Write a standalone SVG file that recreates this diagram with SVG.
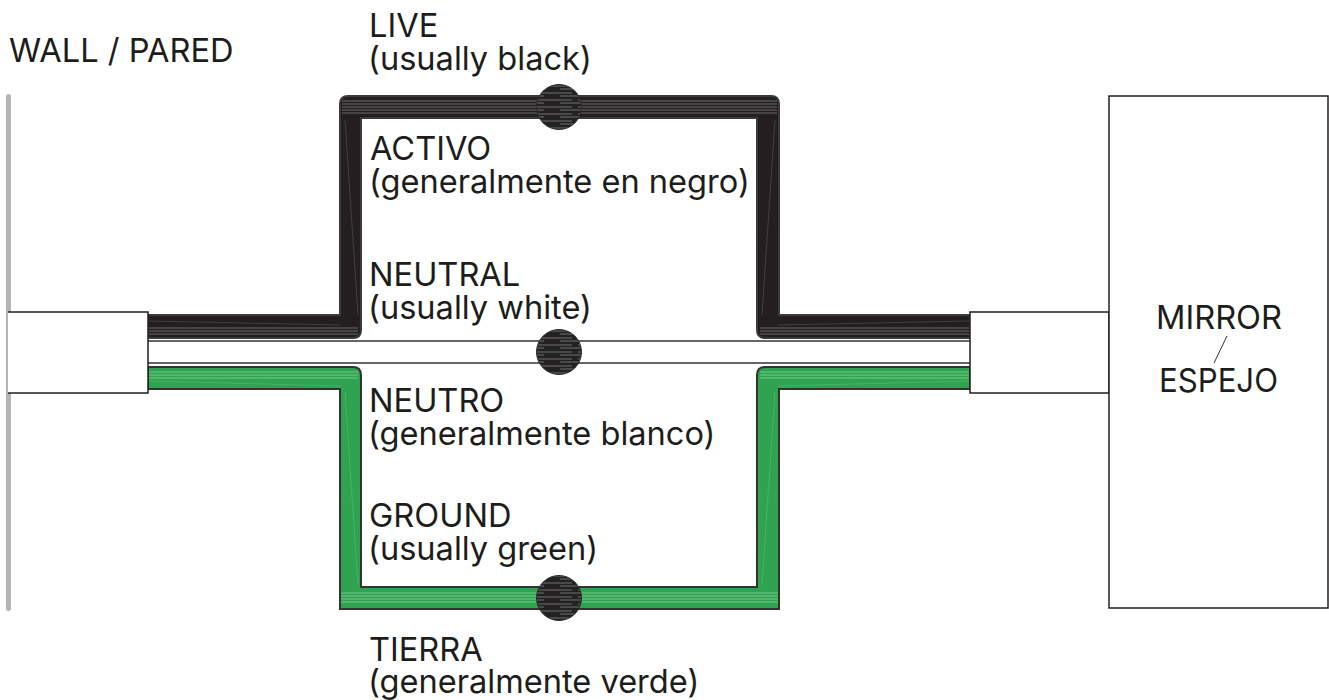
<svg xmlns="http://www.w3.org/2000/svg" width="1329" height="700" viewBox="0 0 1329 700">
<style>
text{font-family:Inter,"Liberation Sans",sans-serif;font-size:32.6px;fill:#1d1d1b}
.k{fill:#231f20;stroke:#3a3a3a;stroke-width:2}
.g{fill:#2fa350;stroke:#333;stroke-width:2}
.box{fill:#fff;stroke:#231f20;stroke-width:1.5}
.sk{stroke:#8a8a8d;stroke-width:1;fill:none;opacity:.7}
.sg{stroke:#8ad29e;stroke-width:1;fill:none;opacity:.8}
.fine{stroke-width:.6;opacity:.5}
.dot{fill:url(#st);stroke:#2a2a2a;stroke-width:1}
</style>
<defs>
<pattern id="st" width="46" height="7" patternUnits="userSpaceOnUse">
<rect width="46" height="7" fill="#232122"/>
<path d="M0 2H20M26 2H46M8 5H38" stroke="#6f6f71" stroke-width="1"/>
</pattern>
</defs>
<rect x="6" y="94" width="5" height="517" rx="2.5" fill="#b1b6b4"/>
<g id="connectors">
<path id="wire-live" class="k" d="M148 315H340V104Q340 96 348 96H771Q779 96 779 104V315H970V338H765Q757 338 757 330V118H361V330Q361 338 353 338H148Z"/>
<g>
<path class="sk" d="M342 101H777M342 104H777M342 107H777M342 110H777M342 113H777"/>
<path class="sk" d="M149 328H358M149 331H358M149 334H358M760 328H969M760 331H969M760 334H969"/>
<path class="sk fine" d="M345 120L358 315M775 120L762 315M149 321L340 325M969 321L778 325"/>
</g>
<path id="wire-neutral" d="M148 341H970M148 363H970" stroke="#333" stroke-width="1.5" fill="none"/>
<path id="wire-ground" class="g" d="M148 367H353Q361 367 361 375V587H757V375Q757 367 765 367H970V389H779V609H340V389H148Z"/>
<g>
<path class="sg" d="M149 372H358M149 375H358M149 378H358M760 372H969M760 375H969M760 378H969"/>
<path class="sg" d="M341 593H778M341 596H778M341 599H778M341 602H778"/>
<path class="sg fine" d="M345 392L358 585M775 392L762 585M149 381L340 386M969 381L778 386"/>
</g>
</g>
<g id="wall-label"><text x="9" y="62">WALL / PARED</text></g>
<g id="gland-left"><path class="box" d="M8 312H148V393H8"/></g>
<g id="gland-right"><rect class="box" x="970" y="312" width="139" height="81"/></g>
<g id="mirror">
<rect class="box" x="1109" y="96" width="219" height="512"/>
<text x="1156" y="329">MIRROR</text>
<line x1="1227" y1="336" x2="1214" y2="363" stroke="#333" stroke-width="1"/>
<text x="1159" y="392" textLength="119" lengthAdjust="spacingAndGlyphs">ESPEJO</text>
</g>
<g id="dot-live"><circle class="dot" cx="559" cy="107" r="22.5"/></g>
<g id="dot-neutral"><circle class="dot" cx="559" cy="352" r="22.5"/></g>
<g id="dot-ground"><circle class="dot" cx="559" cy="598" r="22.5"/></g>
<g id="label-live"><text x="369" y="37">LIVE</text><text x="368" y="70">(usually black)</text></g>
<g id="label-activo"><text x="370" y="160">ACTIVO</text><text x="369" y="193">(generalmente en negro)</text></g>
<g id="label-neutral"><text x="369" y="286">NEUTRAL</text><text x="368" y="319">(usually white)</text></g>
<g id="label-neutro"><text x="369" y="412">NEUTRO</text><text x="368" y="445">(generalmente blanco)</text></g>
<g id="label-ground"><text x="369" y="527">GROUND</text><text x="368" y="560">(usually green)</text></g>
<g id="label-tierra"><text x="369" y="661">TIERRA</text><text x="368" y="693">(generalmente verde)</text></g>
</svg>
